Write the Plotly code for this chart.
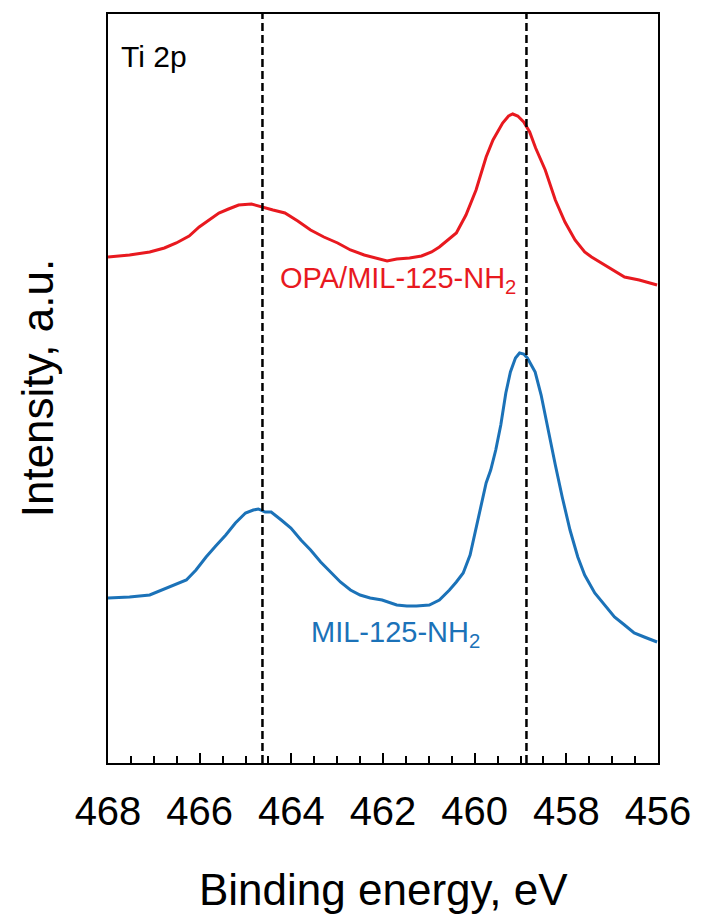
import plotly.graph_objects as go

# OPA/MIL-125-NH2 (red) : binding energy (eV) and intensity (a.u., offset)
red_energy = [468.0, 467.53, 467.09, 466.77, 466.51, 466.23, 466.01, 465.80, 465.58, 465.37,
              465.15, 464.87, 464.65, 464.40, 464.14, 463.86, 463.58, 463.29, 462.99, 462.71,
              462.41, 462.13, 461.91, 461.70, 461.42, 461.16, 460.94, 460.77, 460.58, 460.40,
              460.19, 459.97, 459.75, 459.60, 459.39, 459.26, 459.17, 459.06, 458.93, 458.80,
              458.67, 458.46, 458.24, 458.03, 457.81, 457.60, 457.45, 457.16, 456.73, 456.41, 456.02]
red_intensity = [506, 508, 511, 515, 520, 527, 536, 543, 550, 554,
                 558, 559, 556, 553, 550, 542, 533, 526, 520, 513,
                 508, 505, 502, 504, 505, 507, 511, 516, 523, 530,
                 548, 573, 606, 623, 640, 647, 649, 647, 641, 631,
                 615, 593, 563, 541, 523, 511, 506, 498, 486, 483, 478]

# MIL-125-NH2 (blue)
blue_energy = [468.0, 467.53, 467.09, 466.81, 466.55, 466.29, 466.08, 465.86, 465.65, 465.43,
               465.22, 465.00, 464.83, 464.72, 464.57, 464.44, 464.22, 464.01, 463.79, 463.58,
               463.36, 463.14, 462.93, 462.71, 462.50, 462.28, 462.02, 461.70, 461.48, 461.27,
               460.99, 460.77, 460.55, 460.40, 460.25, 460.10, 459.97, 459.86, 459.75, 459.65,
               459.54, 459.43, 459.32, 459.22, 459.11, 459.02, 458.93, 458.85, 458.76, 458.68,
               458.55, 458.40, 458.24, 458.09, 457.92, 457.75, 457.60, 457.38, 457.17, 456.95,
               456.73, 456.52, 456.30, 456.02]
blue_intensity = [165, 166, 168, 173, 178, 183, 193, 206, 217, 228,
                  240, 250, 253, 254, 251, 251, 243, 235, 223, 213,
                  201, 191, 181, 173, 168, 165, 163, 158, 157, 157,
                  158, 163, 173, 181, 190, 208, 236, 258, 280, 293,
                  313, 338, 370, 391, 405, 410, 409, 405, 398, 391,
                  368, 333, 298, 266, 233, 206, 188, 170, 158, 146,
                  138, 130, 126, 121]

ref_lines = [464.63, 458.87]
tick_vals = [468, 466, 464, 462, 460, 458, 456]
tick_text = ["468", "466", "464", "462", "460", "458", "456"]

RED = "#E8191F"
BLUE = "#1B72B8"
FONT = "Liberation Sans, Arial, sans-serif"

fig = go.Figure()
fig.add_trace(go.Scatter(x=red_energy, y=red_intensity, mode="lines",
                         line=dict(color=RED, width=3), showlegend=False))
fig.add_trace(go.Scatter(x=blue_energy, y=blue_intensity, mode="lines",
                         line=dict(color=BLUE, width=3), showlegend=False))

for xv in ref_lines:
    fig.add_shape(type="line", x0=xv, x1=xv, y0=0, y1=1, xref="x", yref="paper",
                  line=dict(color="black", width=2.5, dash="8px,4px"))

fig.add_annotation(x=467.0, y=707, text="Ti 2p", showarrow=False,
                   font=dict(size=30, color="black", family=FONT))
fig.add_annotation(x=461.68, y=483, text="OPA/MIL-125-NH<sub>2</sub>", showarrow=False,
                   font=dict(size=29, color=RED, family=FONT))
fig.add_annotation(x=461.73, y=129, text="MIL-125-NH<sub>2</sub>", showarrow=False,
                   font=dict(size=29, color=BLUE, family=FONT))

fig.add_annotation(xref="paper", yref="paper", x=-71/556, y=0.5, text="Intensity, a.u.",
                   textangle=-90, showarrow=False, xanchor="center", yanchor="middle",
                   font=dict(size=44, color="black", family=FONT))
fig.add_annotation(xref="paper", yref="paper", x=0.5, y=-126/749, text="Binding energy, eV",
                   showarrow=False, xanchor="center", yanchor="middle",
                   font=dict(size=44, color="black", family=FONT))

fig.update_xaxes(range=[468, 456], tickvals=tick_vals, ticktext=tick_text,
                 ticks="inside", ticklen=10, tickwidth=1.5, tickcolor="black",
                 minor=dict(dtick=0.5, tick0=456, ticks="inside", ticklen=7,
                            tickwidth=1.5, tickcolor="black"),
                 showline=True, linecolor="black", linewidth=2, mirror=True,
                 showgrid=False, zeroline=False, ticklabelstandoff=12,
                 tickfont=dict(size=40, color="black", family=FONT))
fig.update_yaxes(range=[0, 749], showticklabels=False, ticks="",
                 showline=True, linecolor="black", linewidth=2, mirror=True,
                 showgrid=False, zeroline=False)

fig.update_layout(width=703, height=914, margin=dict(l=108, r=39, t=14, b=151),
                  plot_bgcolor="white", paper_bgcolor="white",
                  font=dict(family=FONT))

fig.write_html("out.html")
